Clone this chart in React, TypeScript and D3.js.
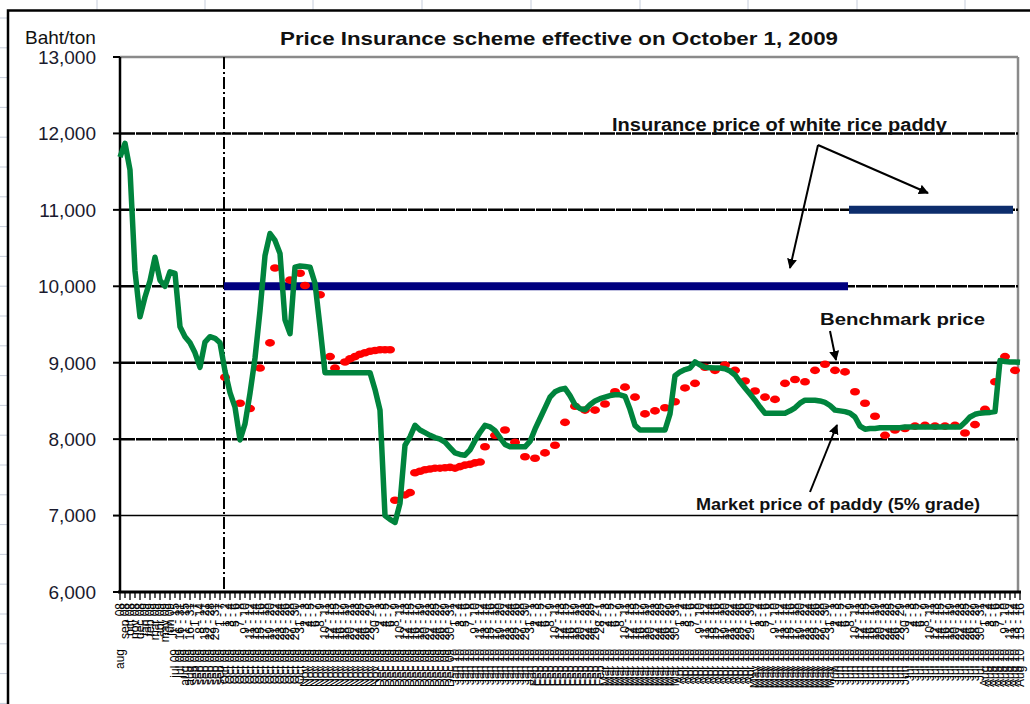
import React from "react";
import * as d3 from "d3";

const W = 1030;
const H = 704;

// Y axis ticks (Baht/ton)
const yTicks = [6000, 7000, 8000, 9000, 10000, 11000, 12000, 13000];

// Market price of paddy (5% grade), one value per category
const marketPrice = [
  11690, 11870, 11520, 10200, 9600, 9860, 10070, 10380, 10080, 10000, // 0-9
  10190, 10170, 9470, 9340, 9260, 9130, 8940, 9270, 9340, 9320, // 10-19
  9260, 8890, 8610, 8420, 7990, 8200, 8600, 9060, 9680, 10400, // 20-29
  10690, 10600, 10430, 9560, 9380, 10250, 10265, 10260, 10250, 10040, // 30-39
  9470, 8870, 8870, 8870, 8870, 8870, 8870, 8870, 8870, 8870, // 40-49
  8870, 8650, 8380, 7000, 6950, 6910, 7160, 7920, 8030, 8180, // 50-59
  8120, 8085, 8050, 8020, 8000, 7960, 7890, 7820, 7800, 7790, // 60-69
  7860, 7980, 8090, 8180, 8160, 8110, 8020, 7930, 7900, 7900, // 70-79
  7900, 7900, 7970, 8130, 8270, 8410, 8550, 8620, 8650, 8665, // 80-89
  8570, 8450, 8400, 8385, 8450, 8500, 8530, 8550, 8570, 8580, // 90-99
  8580, 8560, 8390, 8180, 8120, 8120, 8120, 8120, 8120, 8120, // 100-109
  8330, 8830, 8880, 8910, 8930, 9010, 8970, 8940, 8935, 8930, // 110-119
  8930, 8920, 8890, 8840, 8750, 8670, 8590, 8510, 8420, 8340, // 120-129
  8340, 8340, 8340, 8340, 8370, 8410, 8470, 8510, 8510, 8510, // 130-139
  8500, 8480, 8440, 8380, 8370, 8360, 8340, 8290, 8170, 8130, // 140-149
  8140, 8140, 8150, 8150, 8150, 8150, 8150, 8160, 8160, 8160, // 150-159
  8160, 8160, 8160, 8160, 8160, 8160, 8160, 8160, 8160, 8220, // 160-169
  8290, 8325, 8340, 8345, 8350, 8360, 9030, 9015, 9010, 9010, // 170-179
  9005, // 180
];

// Benchmark price: [category index, Baht/ton]
const benchmarkPoints: [number, number][] = [
  [21, 8810], [24, 8470], [26, 8400], [28, 8930], [30, 9260], [31, 10240],
  [34, 10080], [36, 10170], [37, 10010], [40, 9890], [42, 9080], [43, 8930],
  [45, 9010], [46, 9050], [47, 9080], [48, 9110], [49, 9130], [50, 9150],
  [51, 9160], [52, 9170], [53, 9170], [54, 9170], [55, 7200], [57, 7270],
  [58, 7300], [59, 7560], [60, 7580], [61, 7600], [62, 7610], [63, 7620],
  [64, 7620], [65, 7625], [66, 7630], [67, 7620], [68, 7640], [69, 7660],
  [70, 7670], [71, 7690], [72, 7700], [73, 7900], [75, 8050], [77, 8120],
  [79, 7960], [81, 7770], [83, 7750], [85, 7820], [87, 7920], [89, 8220],
  [91, 8430], [93, 8380], [95, 8380], [97, 8460], [99, 8620], [101, 8680],
  [103, 8550], [105, 8330], [107, 8370], [109, 8410], [111, 8490], [113, 8670],
  [115, 8730], [117, 8940], [119, 8900], [121, 8970], [123, 8900], [125, 8760],
  [127, 8630], [129, 8550], [131, 8520], [133, 8730], [135, 8780], [137, 8750],
  [139, 8900], [141, 8980], [143, 8900], [145, 8880], [147, 8620], [149, 8470],
  [151, 8300], [153, 8050], [155, 8120], [157, 8140], [159, 8170], [161, 8180],
  [163, 8170], [165, 8170], [167, 8180], [169, 8080], [171, 8190], [173, 8390],
  [175, 8750], [177, 9080], [179, 8900],
];

// Insurance price of white rice paddy
const insurancePeriods = [
  { from: 21, to: 146, price: 10000, color: "#00007f" },
  { from: 146, to: 179, price: 11000, color: "#0d2d6c" },
];

// Scheme start category (October 1, 2009)
const schemeStart = 21;

// Category tick labels (two parts each)
const preTop = [
  "08", "sep 08", "oct 08", "nov 08", "dec 08", "jan 09", "feb 09", "mar 09",
  "apr 09", "may 09", "jun 09", "1 - 15", "16 - 31", "1 - 15", "16 - 31", "1 - 7",
  "8 - 14", "15 - 21", "22 - 28", "29 - 31", "1 - 7",
];
const preBottom = [
  "aug", "", "", "", "", "", "", "", "", "", "", "jul 09", "jul 09", "aug 09",
  "aug 09", "sep 09", "sep 09", "sep 09", "sep 09", "sep 09", "sep 09",
];
const fmtMonth = d3.timeFormat("%b %y");
const postTop: string[] = [];
const postBottom: string[] = [];
for (let k = 0; k < marketPrice.length - preTop.length; k++) {
  const d = new Date(2009, 9, 1 + 2 * k);
  const e = new Date(2009, 9, 2 + 2 * k);
  postTop.push(`${d.getDate()} - ${e.getDate()}`);
  postBottom.push(fmtMonth(d));
}
const labelTop = [...preTop, ...postTop];
const labelBottom = [...preBottom, ...postBottom];

const FONT = "Arial, 'Liberation Sans', sans-serif";

export default function App() {
  const N = marketPrice.length;
  const x = d3.scalePoint<number>().domain(d3.range(N)).range([120, 1020]);
  const y = d3.scaleLinear().domain([6000, 13000]).range([592, 57]);
  const X = (i: number) => x(i) as number;

  const line = d3
    .line<number>()
    .x((_, i) => X(i))
    .y((d) => y(d))
    .curve(d3.curveLinear);

  const colXs = [97, 205, 313, 422, 531, 640, 748, 857, 965];
  const rowYs = d3.range(18, H, 29.8);

  return (
    <svg
      width={W}
      height={H}
      style={{ position: "absolute", left: 0, top: 0, background: "#fff" }}
      fontFamily={FONT}
    >
      <defs>
        <marker id="arr" viewBox="0 0 10 10" refX="9" refY="5" markerWidth="5" markerHeight="5" orient="auto">
          <path d="M0,0 L10,5 L0,10 z" fill="#000" />
        </marker>
      </defs>
      {/* spreadsheet background grid */}
      {colXs.map((cx) => (
        <line key={"c" + cx} x1={cx} x2={cx} y1={0} y2={10} stroke="#c6cddb" strokeWidth={1} />
      ))}
      {rowYs.map((ry) => (
        <line key={"r" + ry} x1={0} x2={8} y1={ry} y2={ry} stroke="#c6cddb" strokeWidth={1} />
      ))}
      {/* chart frame */}
      <rect x={8} y={10.5} width={1040} height={710} fill="#fff" stroke="#000" strokeWidth={2.5} />

      {/* titles */}
      <text x={25} y={44} fontSize={19} fill="#111">Baht/ton</text>
      <text x={280} y={45} fontSize={19} fontWeight="bold" textLength={558} lengthAdjust="spacingAndGlyphs" fill="#111">
        Price Insurance  scheme effective  on October 1, 2009
      </text>

      {/* plot area border (top/right) */}
      <line x1={120} x2={1018} y1={y(13000)} y2={y(13000)} stroke="#8a8a8a" strokeWidth={2.5} />
      <line x1={1018} x2={1018} y1={y(13000)} y2={y(6000)} stroke="#8a8a8a" strokeWidth={2.5} />

      {/* gridlines */}
      {yTicks
        .filter((t) => t > 6000 && t < 13000)
        .map((t) => (
          <line
            key={"g" + t}
            x1={120}
            x2={1018}
            y1={y(t)}
            y2={y(t)}
            stroke="#000"
            strokeWidth={t === 7000 ? 1.5 : 2.5}
            strokeDasharray={t === 7000 ? undefined : "15,1"}
          />
        ))}

      {/* y axis */}
      <line x1={120} x2={120} y1={y(13000)} y2={y(6000)} stroke="#000" strokeWidth={2.5} />
      {yTicks.map((t) => (
        <g key={"yt" + t}>
          <line x1={113} x2={120} y1={y(t)} y2={y(t)} stroke="#000" strokeWidth={2} />
          <text x={96} y={y(t)} dy="0.36em" textAnchor="end" fontSize={19} fill="#1a1a2e">
            {d3.format(",")(t)}
          </text>
        </g>
      ))}

      {/* scheme start dash-dot line */}
      <line
        x1={X(schemeStart) - 1}
        x2={X(schemeStart) - 1}
        y1={y(13000)}
        y2={y(6000)}
        stroke="#000"
        strokeWidth={2}
        strokeDasharray="12,3,2,3"
      />

      {/* insurance price lines */}
      {insurancePeriods.map((p) => (
        <line
          key={"ins" + p.price}
          x1={X(p.from) - 1}
          x2={X(p.to) - 2}
          y1={y(p.price)}
          y2={y(p.price)}
          stroke={p.color}
          strokeWidth={8}
        />
      ))}

      {/* benchmark dots */}
      {benchmarkPoints.map(([i, v]) => (
        <ellipse key={"b" + i} cx={X(i)} cy={y(v)} rx={5} ry={3.8} fill="#ff0000" />
      ))}

      {/* market price line */}
      <path d={line(marketPrice) || ""} fill="none" stroke="#00843d" strokeWidth={5.5} strokeLinejoin="round" />

      {/* x axis */}
      <line x1={118} x2={1021} y1={y(6000)} y2={y(6000)} stroke="#000" strokeWidth={3} />
      {d3.range(N).map((i) => (
        <line key={"xt" + i} x1={X(i)} x2={X(i)} y1={y(6000)} y2={y(6000) + (i % 2 ? 6 : 8)} stroke="#000" strokeWidth={1.3} />
      ))}
      {d3.range(N).map((i) => (
        <g key={"xl" + i}>
          <text
            transform={`translate(${X(i) + 4},603) rotate(-90)`}
            textAnchor="end"
            fontSize={12}
            fill="#000"
          >
            {labelTop[i]}
          </text>
          {labelBottom[i] ? (
            <text
              transform={`translate(${X(i) + 4},649) rotate(-90)`}
              textAnchor="end"
              fontSize={12}
              fill="#000"
            >
              {labelBottom[i]}
            </text>
          ) : null}
        </g>
      ))}

      {/* annotations */}
      <text x={612} y={131} fontSize={18} fontWeight="bold" textLength={335} lengthAdjust="spacingAndGlyphs" fill="#111">
        Insurance price of white rice paddy
      </text>
      <line x1={818} x2={790} y1={145} y2={268} stroke="#000" strokeWidth={2} markerEnd="url(#arr)" />
      <line x1={818} x2={928} y1={145} y2={193} stroke="#000" strokeWidth={2} markerEnd="url(#arr)" />

      <text x={820} y={325} fontSize={16.5} fontWeight="bold" textLength={165} lengthAdjust="spacingAndGlyphs" fill="#111">
        Benchmark price
      </text>
      <line x1={830} x2={836} y1={331} y2={360} stroke="#000" strokeWidth={2} markerEnd="url(#arr)" />

      <text x={696} y={510} fontSize={16} fontWeight="bold" textLength={284} lengthAdjust="spacingAndGlyphs" fill="#111">
        Market price of paddy (5% grade)
      </text>
      <line x1={810} x2={837} y1={492} y2={425} stroke="#000" strokeWidth={2} markerEnd="url(#arr)" />
    </svg>
  );
}
